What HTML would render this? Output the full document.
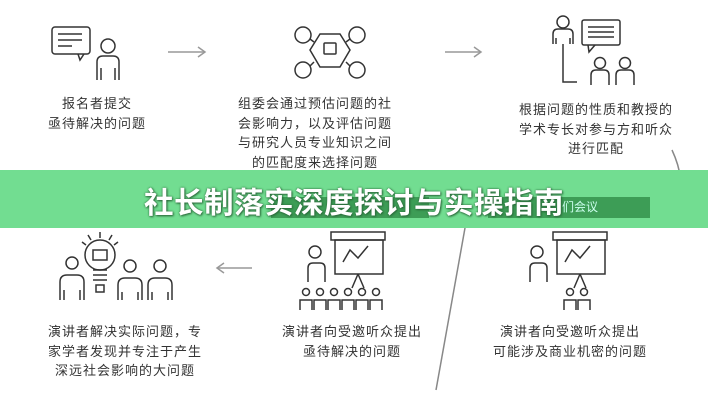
<!DOCTYPE html>
<html><head><meta charset="utf-8"><style>
body{margin:0;width:708px;height:400px;background:#fff;position:relative;overflow:hidden;font-family:"Liberation Sans","Noto Sans CJK SC",sans-serif}
.t{position:absolute;font-size:13px;color:#333;text-align:center;line-height:19.5px;letter-spacing:1px;white-space:nowrap}
svg{position:absolute;left:0;top:0}
.band{position:absolute;left:0;top:170px;width:708px;height:58px;background:#72dd91}
.title{position:absolute;left:0;width:708px;top:180px;text-align:center;font-size:29.5px;font-weight:bold;color:#fff;text-shadow:1px 1px 2px #2a6a3a,0 0 2px #2a6a3a;letter-spacing:0.5px;white-space:nowrap}
</style></head><body>
<svg width="708" height="400" viewBox="0 0 708 400" fill="none" stroke="#333" stroke-width="1.5">
<rect x="52" y="27" width="38" height="27" rx="3"/>
<path d="M78 54 L80 60 L84 54"/>
<line x1="58" y1="34" x2="82" y2="34"/><line x1="58" y1="40" x2="82" y2="40"/><line x1="58" y1="46" x2="72" y2="46"/>
<circle cx="108" cy="46" r="7"/>
<path d="M97 80 V62 Q97 56 103 56 H113 Q119 56 119 62 V80 M101 80 V68 M115 80 V68"/>
<g stroke="#999"><line x1="168" y1="52" x2="204" y2="52"/><path d="M198 47 L205 52 L198 57"/></g>
<path d="M320 34 L340 34 L350 50 L340 67 L320 67 L310 50 Z"/>
<rect x="324" y="43" width="12" height="11" rx="1"/>
<circle cx="303" cy="35" r="8"/><circle cx="303" cy="70" r="8"/><circle cx="357" cy="35" r="8"/><circle cx="357" cy="70" r="8"/>
<line x1="310" y1="39" x2="314" y2="42"/><line x1="310" y1="66" x2="314" y2="62"/><line x1="350" y1="39" x2="346" y2="42"/><line x1="350" y1="66" x2="346" y2="62"/>
<g stroke="#999"><line x1="445" y1="52" x2="480" y2="52"/><path d="M474 47 L481 52 L474 57"/></g>
<circle cx="563" cy="22" r="6"/>
<path d="M553 44 V34 Q553 29 558 29 H568 Q573 29 573 34 V44 M556 44 V38 M570 44 V38"/>
<rect x="582" y="20" width="38" height="25" rx="2"/><path d="M588 45 L589 52 L595 45"/>
<line x1="588" y1="27" x2="614" y2="27"/><line x1="588" y1="32" x2="614" y2="32"/><line x1="588" y1="37" x2="614" y2="37"/>
<path d="M563 44 V82 H577"/>
<circle cx="600" cy="63" r="5.5"/><circle cx="625" cy="63" r="5.5"/>
<path d="M591 85 V75 Q591 70 596 70 H604 Q609 70 609 75 V85 M616 85 V75 Q616 70 621 70 H629 Q634 70 634 75 V85"/>
<g stroke="#888"><path d="M672 150 Q686 180 678 205"/><path d="M671 197 L678 206 L686 198"/></g>
<line x1="470" y1="200" x2="436" y2="390" stroke="#888"/>
<circle cx="72" cy="263" r="6"/><path d="M60 300 V282 Q60 275 67 275 H77 Q84 275 84 282 V300 M64 300 V290 M80 300 V290"/>
<circle cx="100" cy="255" r="15"/><rect x="93" y="250" width="14" height="10"/>
<path d="M93 270 H107 M93 275 H107 M93 280 H107 M96 285 H104 V292 H96 Z"/>
<path d="M100 232 V238 M88 235 L91 240 M112 235 L109 240 M82 242 L86 245 M118 242 L114 245"/>
<circle cx="130" cy="266" r="6"/><path d="M118 300 V285 Q118 278 125 278 H135 Q142 278 142 285 V300 M122 300 V292 M138 300 V292"/>
<circle cx="160" cy="266" r="6"/><path d="M148 300 V285 Q148 278 155 278 H165 Q172 278 172 285 V300 M152 300 V292 M168 300 V292"/>
<g stroke="#999"><line x1="218" y1="268" x2="252" y2="268"/><path d="M224 263 L217 268 L224 273"/></g>
<circle cx="315" cy="252" r="6"/><path d="M308 282 V268 Q308 263 313 263 H320 Q325 263 325 268 V282"/>
<rect x="331" y="232" width="54" height="8"/><rect x="335" y="240" width="48" height="34"/>
<path d="M343 262 L350 250 L358 258 L368 246"/><path d="M358 274 L352 288 M358 274 L364 288"/>
<g>
<circle cx="306" cy="292" r="3.5"/><circle cx="320" cy="292" r="3.5"/><circle cx="334" cy="292" r="3.5"/><circle cx="348" cy="292" r="3.5"/><circle cx="362" cy="292" r="3.5"/><circle cx="376" cy="292" r="3.5"/>
<path d="M300 310 V300 H312 V310 M314 310 V300 H326 V310 M328 310 V300 H340 V310 M342 310 V300 H354 V310 M356 310 V300 H368 V310 M370 310 V300 H382 V310"/>
</g>
<circle cx="537" cy="252" r="6"/><path d="M530 282 V268 Q530 263 535 263 H542 Q547 263 547 268 V282"/>
<rect x="553" y="232" width="54" height="8"/><rect x="557" y="240" width="48" height="34"/>
<path d="M565 262 L572 250 L580 258 L590 246"/><path d="M580 274 L574 288 M580 274 L586 288"/>
<circle cx="570" cy="292" r="3.5"/><circle cx="584" cy="292" r="3.5"/>
<path d="M564 310 V300 H576 V310 M578 310 V300 H590 V310"/>
</svg>
<div class="t" style="left:47px;top:94px;width:100px">报名者提交<br>亟待解决的问题</div>
<div class="t" style="left:235px;top:94px;width:160px">组委会通过预估问题的社<br>会影响力，以及评估问题<br>与研究人员专业知识之间<br>的匹配度来选择问题</div>
<div class="t" style="left:506px;top:100px;width:180px">根据问题的性质和教授的<br>学术专长对参与方和听众<br>进行匹配</div>
<div class="band"></div>
<div style="position:absolute;left:271px;top:197px;width:158px;height:21px;background:#3d9d56"></div>
<div style="position:absolute;left:488px;top:197px;width:162px;height:21px;background:#3d9d56;color:#cfe;font-size:12px;line-height:21px;text-align:right;padding-right:52px;box-sizing:border-box">们会议</div>
<div class="title">社长制落实深度探讨与实操指南</div>
<div class="t" style="left:25px;top:322px;width:200px">演讲者解决实际问题，专<br>家学者发现并专注于产生<br>深远社会影响的大问题</div>
<div class="t" style="left:272px;top:322px;width:160px">演讲者向受邀听众提出<br>亟待解决的问题</div>
<div class="t" style="left:490px;top:322px;width:160px">演讲者向受邀听众提出<br>可能涉及商业机密的问题</div>
</body></html>
